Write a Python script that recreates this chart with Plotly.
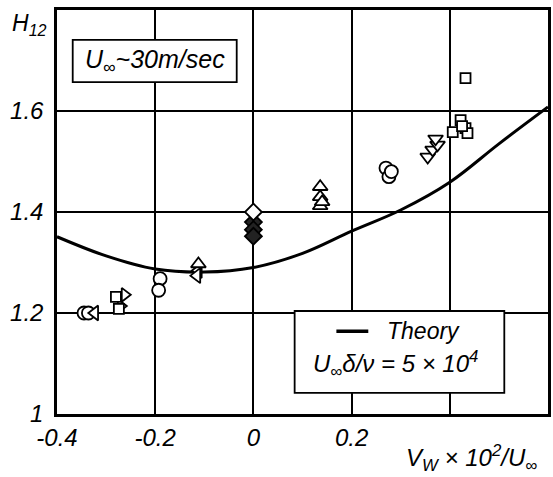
import plotly.graph_objects as go

# Theory curve
theory_x = [-0.4, -0.3, -0.2, -0.1, 0.0, 0.1, 0.2, 0.3, 0.4, 0.5, 0.6]
theory_y = [1.351, 1.313, 1.287, 1.281, 1.290, 1.318, 1.362, 1.404, 1.459, 1.535, 1.608]

# Measured data by symbol
circ_x = [-0.345, -0.336, -0.190, -0.193, 0.270, 0.276, 0.281]
circ_y = [1.200, 1.200, 1.268, 1.245, 1.487, 1.470, 1.480]

tril_x = [-0.323, -0.112, -0.115]
tril_y = [1.200, 1.284, 1.274]

trir_x = [-0.262, -0.270]
trir_y = [1.236, 1.214]

sq_x = [-0.280, -0.274, 0.406, 0.422, 0.432, 0.436, 0.425, 0.432]
sq_y = [1.232, 1.208, 1.558, 1.582, 1.566, 1.556, 1.570, 1.665]

dia_open_x = [0.0]
dia_open_y = [1.400]
dia_fill_x = [0.0, 0.0, 0.0]
dia_fill_y = [1.380, 1.365, 1.352]

triu_x = [0.136, 0.136, 0.136, 0.140, -0.112]
triu_y = [1.450, 1.430, 1.412, 1.420, 1.297]

trid_x = [0.355, 0.365, 0.375, 0.371]
trid_y = [1.509, 1.523, 1.533, 1.545]

x_ticks = [-0.4, -0.2, 0.0, 0.2, 0.4]
x_ticktext = ["-0.4", "-0.2", "0", "0.2", ""]
y_ticks = [1.0, 1.2, 1.4, 1.6]
y_ticktext = ["1", "1.2", "1.4", "1.6"]

FONT = "Liberation Sans"

fig = go.Figure()
fig.add_trace(go.Scatter(x=theory_x, y=theory_y, mode="lines",
                         line=dict(color="black", width=3, shape="spline"),
                         showlegend=False, hoverinfo="skip"))

def add_markers(xs, ys, symbol, fill="white", size=12):
    fig.add_trace(go.Scatter(x=xs, y=ys, mode="markers", showlegend=False,
                             marker=dict(symbol=symbol, size=size, color=fill,
                                         line=dict(color="black", width=1.8))))

add_markers(circ_x, circ_y, "circle", size=13)
add_markers(tril_x, tril_y, "triangle-left", size=13)
add_markers(trir_x, trir_y, "triangle-right", size=12)
add_markers(sq_x, sq_y, "square", size=10)
add_markers(dia_fill_x, dia_fill_y, "diamond", fill="#222222", size=13)
add_markers(dia_open_x, dia_open_y, "diamond", size=13)
add_markers(triu_x, triu_y, "triangle-up", size=13)
add_markers(trid_x, trid_y, "triangle-down", size=13)

# boxes
fig.add_shape(type="rect", x0=-0.368, x1=-0.034, y0=1.657, y1=1.741,
              line=dict(color="black", width=1.8), fillcolor="white", layer="above")
fig.add_annotation(x=-0.201, y=1.699, text="<i>U<sub>∞</sub>~30m/sec</i>", showarrow=False,
                   xanchor="center", yanchor="middle",
                   font=dict(family=FONT, size=25, color="black"))

fig.add_shape(type="rect", x0=0.084, x1=0.511, y0=1.042, y1=1.204,
              line=dict(color="black", width=1.8), fillcolor="white", layer="above")
fig.add_shape(type="line", x0=0.169, x1=0.234, y0=1.164, y1=1.164,
              line=dict(color="black", width=3.5), layer="above")
fig.add_annotation(x=0.347, y=1.164, text="<i>Theory</i>", showarrow=False,
                   xanchor="center", yanchor="middle",
                   font=dict(family=FONT, size=23, color="black"))
fig.add_annotation(x=0.29, y=1.100, text="<i>U<sub>∞</sub>δ/ν = 5 × 10<sup>4</sup></i>", showarrow=False,
                   xanchor="center", yanchor="middle",
                   font=dict(family=FONT, size=24, color="black"))

fig.add_annotation(xref="paper", yref="paper", x=0.845, y=-0.11,
                   text="<i>V<sub>W</sub> × 10<sup>2</sup>/U<sub>∞</sub></i>", showarrow=False,
                   xanchor="center", yanchor="middle",
                   font=dict(family=FONT, size=24, color="black"))
fig.add_annotation(xref="paper", yref="paper", x=-0.055, y=0.965,
                   text="<i>H<sub>12</sub></i>", showarrow=False,
                   xanchor="center", yanchor="middle",
                   font=dict(family=FONT, size=23, color="black"))

fig.update_layout(
    width=553, height=477,
    margin=dict(l=57, r=2, t=10, b=63),
    paper_bgcolor="white", plot_bgcolor="white",
    showlegend=False,
)
fig.update_xaxes(range=[-0.4, 0.6], tickvals=x_ticks, ticktext=x_ticktext,
                 showgrid=True, gridcolor="black", gridwidth=1.5,
                 showline=True, linecolor="black", linewidth=2.5, mirror=True,
                 zeroline=False, ticks="",
                 tickfont=dict(family=FONT, size=24, color="black", style="italic"))
fig.update_yaxes(range=[1.0, 1.8], tickvals=y_ticks, ticktext=y_ticktext,
                 showgrid=True, gridcolor="black", gridwidth=1.5,
                 showline=True, linecolor="black", linewidth=2.5, mirror=True,
                 zeroline=False, ticks="", ticklabelstandoff=6,
                 tickfont=dict(family=FONT, size=24, color="black", style="italic"))

fig.write_html("out.html")
